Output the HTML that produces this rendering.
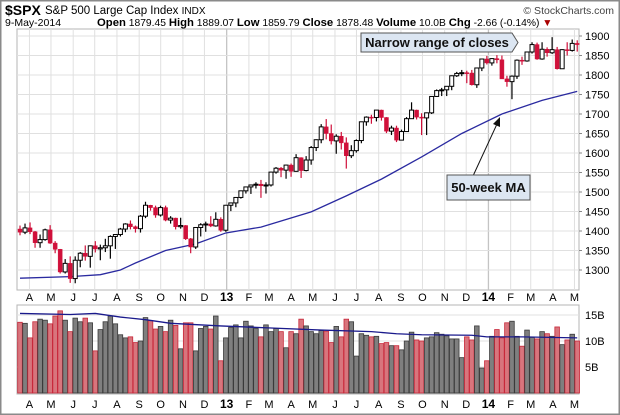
<!DOCTYPE html>
<html><head><meta charset="utf-8">
<style>
body{margin:0;background:#fff;}
svg{display:block;font-family:"Liberation Sans",sans-serif;}
</style></head>
<body>
<svg id="c" width="620" height="415" viewBox="0 0 620 415">
<rect x="0.75" y="0.75" width="618.5" height="413.5" fill="#fff" stroke="#8a8a8a" stroke-width="1.5"/>
<text x="5" y="15" font-size="14" font-weight="bold">$SPX</text>
<text x="45" y="14" font-size="11.5">S&amp;P 500 Large Cap Index <tspan font-size="10">INDX</tspan></text>
<text x="614" y="14" font-size="10.5" text-anchor="end" fill="#444">© StockCharts.com</text>
<text x="5" y="26" font-size="10.5">9-May-2014</text>
<text x="97" y="26" font-size="10.3"><tspan font-weight="bold" font-size="11.3">Open</tspan> 1879.45 <tspan font-weight="bold" font-size="11.3">High</tspan> 1889.07 <tspan font-weight="bold" font-size="11.3">Low</tspan> 1859.79 <tspan font-weight="bold" font-size="11.3">Close</tspan> 1878.48 <tspan font-weight="bold" font-size="11.3">Volume</tspan> 10.0B <tspan font-weight="bold" font-size="11.3">Chg</tspan> -2.66 (-0.14%) <tspan fill="#a00">▼</tspan></text>
<g id="price"></g>
<g id="vol"></g>
</svg>
<script>
const closes=[1397,1408,1398,1370,1378,1403,1369,1353,1295,1317,1278,1325,1343,1335,1362,1354,1357,1362,1386,1391,1405,1418,1411,1406,1438,1466,1460,1441,1460,1428,1433,1411,1414,1380,1359,1409,1416,1418,1413,1430,1402,
1466,1472,1486,1503,1513,1518,1520,1516,1518,1551,1561,1556,1569,1553,1588,1555,1582,1614,1634,1667,1650,1631,1643,1626,1593,1606,1632,1680,1692,1691,1710,1691,1656,1664,1633,1655,1688,1710,1692,1690,1703,1745,1760,1762,1771,1798,1804,1806,1805,1775,1818,1841,
1831,1842,1839,1790,1783,1797,1838,1836,1859,1878,1841,1866,1857,1865,1816,1865,1863,1881,1878];
const opens=[1405,1397,1408,1398,1370,1378,1403,1369,1353,1295,1317,1278,1325,1343,1335,1362,1354,1357,1362,1386,1391,1405,1418,1411,1406,1438,1466,1460,1441,1460,1428,1433,1411,1414,1380,1359,1409,1416,1418,1413,1430,
1402,1466,1472,1486,1503,1513,1518,1520,1516,1518,1551,1561,1556,1569,1553,1588,1555,1582,1614,1634,1667,1650,1631,1643,1626,1593,1606,1632,1680,1692,1691,1710,1691,1656,1664,1633,1655,1688,1710,1692,1690,1703,1745,1760,1762,1771,1798,1804,1806,1805,1775,1818,
1841,1831,1842,1839,1790,1783,1797,1838,1836,1859,1878,1841,1866,1857,1865,1816,1865,1863,1881];
const highs=[1414,1419,1422,1400,1391,1406,1415,1374,1354,1328,1335,1335,1346,1363,1363,1374,1365,1380,1389,1392,1408,1420,1427,1414,1441,1475,1467,1465,1465,1465,1438,1434,1434,1415,1382,1409,1420,1424,1438,1448,1435,
1467,1473,1486,1503,1514,1519,1525,1531,1525,1552,1564,1564,1570,1573,1597,1589,1592,1618,1635,1674,1687,1673,1648,1654,1640,1620,1635,1680,1694,1698,1710,1711,1692,1670,1670,1660,1692,1730,1711,1702,1704,1746,1763,1767,1771,1799,1808,1813,1811,1813,1818,1842,
1849,1843,1851,1850,1798,1799,1840,1847,1860,1884,1883,1884,1871,1897,1872,1866,1884,1891,1889];
const lows=[1389,1392,1392,1357,1357,1375,1367,1343,1291,1291,1267,1266,1307,1324,1306,1345,1325,1346,1329,1354,1386,1397,1404,1396,1396,1433,1452,1434,1437,1425,1419,1404,1406,1377,1343,1354,1386,1398,1410,1411,1398,
1398,1451,1461,1483,1496,1495,1509,1485,1496,1514,1547,1538,1534,1539,1552,1536,1553,1570,1605,1625,1635,1622,1598,1609,1560,1587,1601,1625,1670,1675,1681,1683,1651,1646,1628,1633,1655,1688,1686,1646,1646,1700,1744,1746,1746,1761,1795,1797,1779,1773,1767,1810,
1827,1824,1830,1790,1770,1738,1790,1826,1834,1855,1839,1839,1847,1854,1814,1816,1850,1860,1860];
const volumes=[13.6,13.4,10.6,13.7,14.2,14.0,13.3,14.8,15.8,14.0,11.8,14.4,13.7,14.4,13.5,8.1,12.2,13.7,14.8,13.3,11.2,10.6,10.8,9.7,10.0,14.5,13.9,12.3,12.8,11.8,14.0,13.0,8.5,13.5,13.5,8.1,12.4,12.8,12.3,14.8,6.2,10.6,12.6,13.1,10.6,13.8,12.9,12.4,10.8,13.1,11.8,12.4,11.8,8.7,11.8,11.4,14.2,12.9,11.8,11.4,12.0,11.9,9.7,12.8,10.8,14.2,13.7,7.1,11.4,11.1,10.8,10.9,9.5,9.7,9.1,9.1,8.3,10.0,11.7,10.2,10.0,10.6,10.8,11.6,11.3,11.0,10.4,10.4,6.8,10.8,10.2,12.9,4.8,6.2,10.9,12.2,10.6,13.5,13.8,10.9,9.0,12.1,10.7,10.4,11.8,11.4,10.9,12.7,9.3,10.2,11.3,10.0];
const maWeeks=[0,10,16,20,23,29,35,41,48,58,65,72,80,88,96,104,111];
const maValues=[1279,1283,1288,1300,1318,1350,1367,1395,1410,1449,1490,1533,1590,1650,1700,1735,1758];
const volMaWeeks=[0,10,15,20,25,30,40,50,60,70,75,80,90,93,100,111];
const volMaValues=[15.3,15.1,15.3,14.6,14.1,13.4,12.9,12.5,12.1,11.8,11.4,11.2,11.1,10.8,10.8,10.6];
const priceTicks=[1300,1350,1400,1450,1500,1550,1600,1650,1700,1750,1800,1850,1900];
const volTicks=[5,10,15];
const monthLabels=["A","M","J","J","A","S","O","N","D","13","F","M","A","M","J","J","A","S","O","N","D","14","F","M","A","M"];
const monthDates=["2012-04-01","2012-05-01","2012-06-01","2012-07-01","2012-08-01","2012-09-01","2012-10-01","2012-11-01","2012-12-01","2013-01-01","2013-02-01","2013-03-01","2013-04-01","2013-05-01","2013-06-01","2013-07-01","2013-08-01","2013-09-01","2013-10-01","2013-11-01","2013-12-01","2014-01-01","2014-02-01","2014-03-01","2014-04-01","2014-05-01"];

const NS="http://www.w3.org/2000/svg";
const L=17,R=579,PT=29,PB=290,VT=305,VB=394;
const X0=20,STEP=5.02;
const xw=i=>X0+i*STEP;
const xd=d=>X0+(Date.parse(d)-Date.UTC(2012,2,23))/864e5/7*STEP;
const yp=p=>36+(1900-p)*0.39;
const yv=v=>393-v*5.2;
function mk(parent,tag,attrs){const e=document.createElementNS(NS,tag);for(const k in attrs)e.setAttribute(k,attrs[k]);parent.appendChild(e);return e;}
const P=document.getElementById('price'),V=document.getElementById('vol');

let pf=mk(P,'rect',{x:L,y:PT,width:R-L,height:PB-PT,fill:'#fff',stroke:'#b5b5b5'});


let vf=mk(V,'rect',{x:L,y:VT,width:R-L,height:VB-VT,fill:'#fff',stroke:'#b5b5b5'});



monthLabels.forEach((m,i)=>{
  const x=xd(monthDates[i])+3; if(x<L||x>R)return;
  const yr=(m==="13"||m==="14");
  [[PT,PB],[VT,VB]].forEach(([a,b])=>{const g=mk(P,'line',{x1:x,x2:x,y1:a,y2:b,stroke:yr?'#c4c4c4':'#e0e0e0','stroke-width':yr?1.3:1});
    
    });
  [297,404].forEach(yy=>{const t=mk(P,'text',{x:x,y:yy+4,'font-size':yr?12:11,'font-weight':yr?'bold':'normal','text-anchor':'middle'});t.textContent=m;
    
    });
});
priceTicks.forEach(p=>{
  const g=mk(P,'line',{x1:L,x2:R,y1:yp(p),y2:yp(p),stroke:'#e0e0e0'});
  
  
  const t=mk(P,'text',{x:585,y:yp(p)+4,'font-size':11});t.textContent=p;
  
  
  mk(P,'line',{x1:R,x2:R+3,y1:yp(p),y2:yp(p),stroke:'#888'});
});
volTicks.forEach(v=>{
  const g=mk(V,'line',{x1:L,x2:R,y1:yv(v),y2:yv(v),stroke:'#e0e0e0'});
  
  
  const t=mk(V,'text',{x:585,y:yv(v)+4,'font-size':11});t.textContent=v+'B';
  
  
});
volumes.forEach((v,i)=>{
  const down=i>0?closes[i]<closes[i-1]:closes[i]<opens[i];
  const b=mk(V,'rect',{x:xw(i)-2.3,y:yv(v),width:4.6,height:393-yv(v),fill:down?'#d8757d':'#7f7f7f',stroke:down?'#c8283a':'#3a3a3a','stroke-width':0.8});
  
  
});
let vm=mk(V,'polyline',{points:volMaWeeks.map((w,i)=>xw(w)+','+yv(volMaValues[i])).join(' '),fill:'none',stroke:'#1a1a8c','stroke-width':1.3});


let pm=mk(P,'polyline',{points:maWeeks.map((w,i)=>xw(w)+','+yp(maValues[i])).join(' '),fill:'none',stroke:'#2a2aa0','stroke-width':1.3});


closes.forEach((c,i)=>{
  const o=opens[i],x=xw(i),down=c<o;
  const col=down?'#d0103a':'#000';
  const w=mk(P,'line',{x1:x,x2:x,y1:yp(highs[i]),y2:yp(lows[i]),stroke:col,'stroke-width':1.2});
  
  
  const top=yp(Math.max(o,c)),h=Math.max(1,Math.abs(yp(o)-yp(c)));
  const b=mk(P,'rect',{x:x-2,y:top,width:4,height:h,fill:down?'#d0103a':'#fff',stroke:col,'stroke-width':down?0.5:1});
  
  
});
const svg=document.getElementById('c');
let a1=mk(svg,'path',{d:'M361,33 H512 L518,42.5 L512,52 H361 Z',fill:'#dce6f2',stroke:'#555','stroke-width':1});


let t1=mk(svg,'text',{x:437,y:47,'font-size':13,'font-weight':'bold','text-anchor':'middle',fill:'#111'});t1.textContent='Narrow range of closes';


let ar=mk(svg,'line',{x1:473,y1:176,x2:497,y2:124,stroke:'#111','stroke-width':1});


let ah=mk(svg,'path',{d:'M500,117 L493,124 L500,127 Z',fill:'#111'});


let a2=mk(svg,'rect',{x:447,y:175,width:83,height:25,fill:'#dce6f2',stroke:'#555'});


let t2=mk(svg,'text',{x:488.5,y:192,'font-size':13,'font-weight':'bold','text-anchor':'middle',fill:'#111'});t2.textContent='50-week MA';


</script>
</body></html>
